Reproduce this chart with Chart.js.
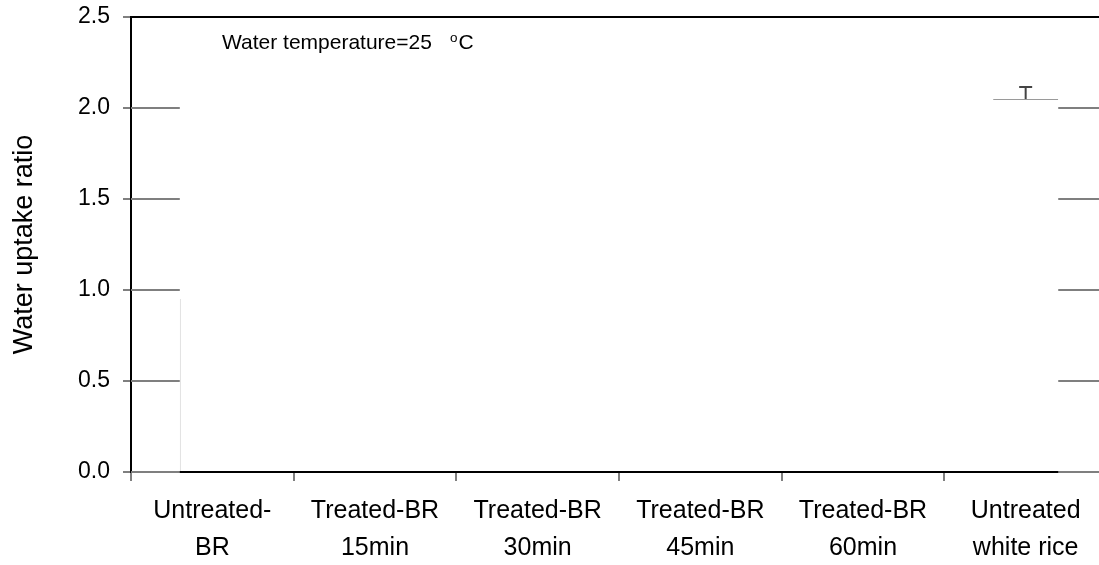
<!DOCTYPE html>
<html>
<head>
<meta charset="utf-8">
<script src="https://cdn.jsdelivr.net/npm/chart.js@4.4.1/dist/chart.umd.min.js"></script>
<style>
  html, body { margin: 0; padding: 0; background: #fff; overflow: hidden; width: 1099px; height: 565px; }
  canvas { display: block; }
</style>
</head>
<body>
<canvas id="chart" width="1110" height="565"></canvas>
<script>
const categories = [
  ['Untreated-', 'BR'],
  ['Treated-BR', '15min'],
  ['Treated-BR', '30min'],
  ['Treated-BR', '45min'],
  ['Treated-BR', '60min'],
  ['Untreated', 'white rice'],
];
const uptake = [0.95, null, null, null, null, 2.05];
const uptakeErr = [0, null, null, null, null, 0.066];
const yTicks = [0, 0.5, 1.0, 1.5, 2.0, 2.5];

const SANS = '"Liberation Sans", Arial, sans-serif';

// gridlines only show outside the bar span, as in the original figure
const gridSegments = {
  id: 'gridSegments',
  beforeDatasetsDraw(chart) {
    const { ctx, chartArea } = chart;
    const bars = chart.getDatasetMeta(0).data;
    const first = bars[0], last = bars[bars.length - 1];
    const xl = first.x - first.width / 2;
    const xr = last.x + last.width / 2;
    const y = chart.scales.y;
    ctx.save();
    ctx.strokeStyle = '#7f7f7f';
    ctx.lineWidth = 2;
    yTicks.forEach((v) => {
      const py = y.getPixelForValue(v);
      ctx.beginPath();
      ctx.moveTo(chartArea.left, py); ctx.lineTo(xl, py);
      ctx.moveTo(xr, py); ctx.lineTo(chartArea.right, py);
      ctx.stroke();
    });
    ctx.restore();
  },
};

const errorBars = {
  id: 'errorBars',
  afterDatasetsDraw(chart) {
    const { ctx } = chart;
    const y = chart.scales.y;
    chart.getDatasetMeta(0).data.forEach((bar, i) => {
      const e = uptakeErr[i];
      if (!e || uptake[i] == null) return;
      const y0 = y.getPixelForValue(uptake[i]);
      const y1 = y.getPixelForValue(uptake[i] + e);
      ctx.save();
      ctx.strokeStyle = '#444';
      ctx.lineWidth = 2;
      ctx.beginPath();
      ctx.moveTo(bar.x, y0); ctx.lineTo(bar.x, y1);
      ctx.moveTo(bar.x - 6.5, y1); ctx.lineTo(bar.x + 6.5, y1);
      ctx.stroke();
      ctx.restore();
    });
  },
};

const frameAndNote = {
  id: 'frameAndNote',
  afterDraw(chart) {
    const { ctx, chartArea } = chart;
    ctx.save();
    ctx.strokeStyle = '#000';
    ctx.lineWidth = 2;
    ctx.beginPath();
    ctx.moveTo(chartArea.left, chartArea.top);
    ctx.lineTo(chartArea.right, chartArea.top);
    ctx.lineTo(chartArea.right, chartArea.bottom);
    ctx.stroke();

    ctx.fillStyle = '#000';
    ctx.textBaseline = 'alphabetic';
    ctx.font = '21px ' + SANS;
    const main = 'Water temperature=25';
    const x0 = 222, base = 49;
    ctx.fillText(main, x0, base);
    const w = ctx.measureText(main).width;
    ctx.font = '13.5px ' + SANS;
    ctx.fillText('o', x0 + w + 18, base - 7);
    const wo = ctx.measureText('o').width;
    ctx.font = '21px ' + SANS;
    ctx.fillText('C', x0 + w + 18 + wo + 1, base);
    ctx.restore();
  },
};

new Chart(document.getElementById('chart'), {
  type: 'bar',
  data: {
    labels: categories,
    datasets: [{
      data: uptake,
      backgroundColor: '#ffffff',
      borderColor: (c) => c.dataIndex === 0 ? '#d4d4d4' : '#9a9a9a',
      borderWidth: (c) => c.dataIndex === 0
        ? { left: 1, right: 0, top: 0, bottom: 0 }
        : { left: 0, right: 0, top: 1, bottom: 0 },
      borderSkipped: false,
      categoryPercentage: 1,
      barPercentage: 0.4,
    }],
  },
  options: {
    responsive: false,
    animation: false,
    devicePixelRatio: 1,
    layout: { padding: { left: 0, right: 3, top: 17, bottom: 0 } },
    plugins: { legend: { display: false }, tooltip: { enabled: false } },
    scales: {
      x: {
        offset: true,
        grid: { offset: true, drawOnChartArea: false, color: '#7f7f7f', lineWidth: 2, tickLength: 9 },
        border: { color: '#000', width: 2 },
        ticks: { color: '#000', padding: 12, font: { family: SANS, size: 25, lineHeight: 1.46 }, maxRotation: 0, autoSkip: false },
        afterFit: (s) => { s.height = 93; s.paddingLeft = 0; s.paddingRight = 0; },
      },
      y: {
        min: 0, max: 2.5,
        afterBuildTicks: (s) => { s.ticks = yTicks.map((v) => ({ value: v })); },
        grid: { drawOnChartArea: false, color: '#7f7f7f', lineWidth: 2, tickLength: 8 },
        border: { color: '#000', width: 2 },
        ticks: { color: '#000', padding: 13, font: { family: SANS, size: 23 }, callback: (v) => Number(v).toFixed(1) },
        title: { display: true, text: 'Water uptake ratio', color: '#000', padding: { top: 8, bottom: 0 }, font: { family: SANS, size: 27 } },
        afterFit: (s) => { s.width = 131; s.paddingTop = 0; s.paddingBottom = 0; },
      },
    },
  },
  plugins: [gridSegments, errorBars, frameAndNote],
});
</script>
</body>
</html>
